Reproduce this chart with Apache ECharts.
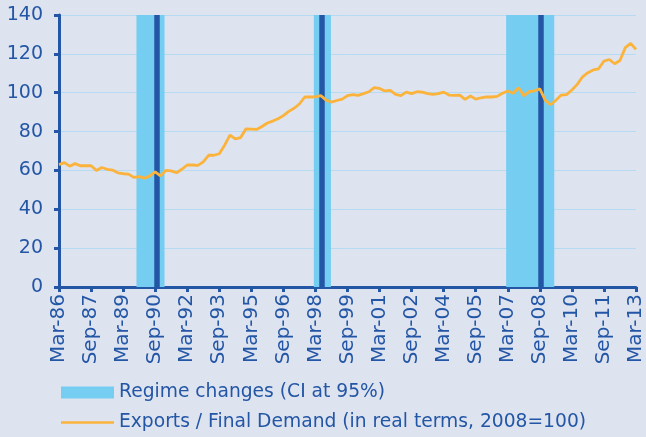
<!DOCTYPE html>
<html>
<head>
<meta charset="utf-8">
<script src="https://cdn.jsdelivr.net/npm/echarts@6/dist/echarts.min.js"></script>
<style>
  html, body { margin: 0; padding: 0; background: #dee3f0; }
  #chart { width: 646px; height: 437px; }
</style>
</head>
<body>
<div id="chart"></div>
<script>
// quarterly, Mar-86 .. Mar-13 (109 quarters)
var tickLabels = ['Mar-86','Sep-87','Mar-89','Sep-90','Mar-92','Sep-93','Mar-95','Sep-96','Mar-98',
    'Sep-99','Mar-01','Sep-02','Mar-04','Sep-05','Mar-07','Sep-08','Mar-10','Sep-11','Mar-13'];

var exportsRatio = [
    63, 64, 62.2, 63.5, 62.4, 62.4, 62.4, 60, 61.5, 60.6,
    60.2, 58.8, 58.3, 58.1, 56.4, 56.8, 56, 57.2, 59.2, 57.2,
    60, 59.8, 58.8, 60.6, 62.8, 62.8, 62.6, 64.4, 67.8, 67.8,
    68.6, 73, 78.2, 76.2, 76.9, 81.4, 81.3, 81.1, 82.6, 84.4,
    85.4, 86.6, 88.2, 90.4, 92, 94.2, 97.8, 97.8, 97.9, 98.5,
    96.2, 95.2, 96, 96.7, 98.5, 99, 98.6, 99.5, 100.5, 102.6,
    102.2, 100.9, 101.2, 99.1, 98.5, 100.3, 99.5, 100.5, 100.3, 99.5,
    99.1, 99.5, 100.3, 98.8, 98.6, 98.8, 96.6, 98.3, 96.7, 97.4,
    97.9, 97.8, 98.1, 99.7, 100.9, 99.7, 102.6, 98.5, 100.5, 101,
    102, 96.2, 93.8, 96.1, 98.8, 99, 101.4, 104.3, 108.2, 110.3,
    111.7, 112.3, 116.3, 117.1, 114.9, 116.6, 123.2, 125.4, 122.3
];

// regime changes, in quarters from Mar-86
var ciStart = [14.5, 47.7, 83.7];
var ciEnd = [19.75, 50.9, 92.7];
var breakQuarter = [18.3, 49.2, 90.2];

var seriesNames = ['Regime changes (CI at 95%)', 'Exports / Final Demand (in real terms, 2008=100)'];

var blue = '#2356a5';
var lightBlue = '#75cdf2';
var orange = '#fbb33b';

var myChart = echarts.init(document.getElementById('chart'));

var legendText = { color: blue, fontSize: 18.7, fontFamily: 'DejaVu Sans' };

var option = {
    backgroundColor: '#dee3f0',
    textStyle: { fontFamily: 'DejaVu Sans' },
    animation: false,
    grid: { left: 59, right: 10, top: 15, bottom: 150 },
    legend: [
        {
            left: 56,
            top: 378,
            itemWidth: 53,
            itemHeight: 12,
            textStyle: legendText,
            data: [{ name: seriesNames[0], icon: 'rect', itemStyle: { color: lightBlue } }]
        },
        {
            left: 56,
            top: 408,
            itemWidth: 53,
            itemHeight: 2.5,
            textStyle: legendText,
            data: [{ name: seriesNames[1], icon: 'rect', itemStyle: { color: orange } }]
        }
    ],
    xAxis: {
        type: 'value',
        min: 0,
        max: exportsRatio.length - 1,
        interval: 6,
        axisLine: { lineStyle: { color: blue, width: 3 } },
        axisTick: { show: true, length: 5, lineStyle: { color: blue, width: 3 } },
        splitLine: { show: false },
        axisLabel: {
            rotate: 90,
            color: blue,
            fontSize: 20,
            margin: 7,
            formatter: function (v) { return tickLabels[v / 6]; }
        }
    },
    yAxis: {
        type: 'value',
        min: 0,
        max: 140,
        interval: 20,
        axisLine: { show: true, lineStyle: { color: blue, width: 3 } },
        axisTick: { show: true, length: 5, lineStyle: { color: blue, width: 3 } },
        splitLine: { lineStyle: { color: '#b6daf2', width: 1 } },
        axisLabel: { color: blue, fontSize: 19, margin: 16 }
    },
    series: [
        {
            name: seriesNames[0],
            type: 'line',
            data: [],
            z: 1,
            itemStyle: { color: lightBlue },
            markArea: {
                silent: true,
                itemStyle: { color: lightBlue },
                data: ciStart.map(function (s, i) {
                    return [{ xAxis: s }, { xAxis: ciEnd[i] }];
                })
            },
            markLine: {
                silent: true,
                symbol: 'none',
                label: { show: false },
                lineStyle: { color: blue, width: 5.5, type: 'solid' },
                data: breakQuarter.map(function (q) { return { xAxis: q }; })
            }
        },
        {
            name: seriesNames[1],
            type: 'line',
            z: 5,
            symbol: 'none',
            itemStyle: { color: orange },
            lineStyle: { color: orange, width: 2.8 },
            data: exportsRatio.map(function (v, i) { return [i, v]; })
        }
    ]
};

myChart.setOption(option);
</script>
</body>
</html>
